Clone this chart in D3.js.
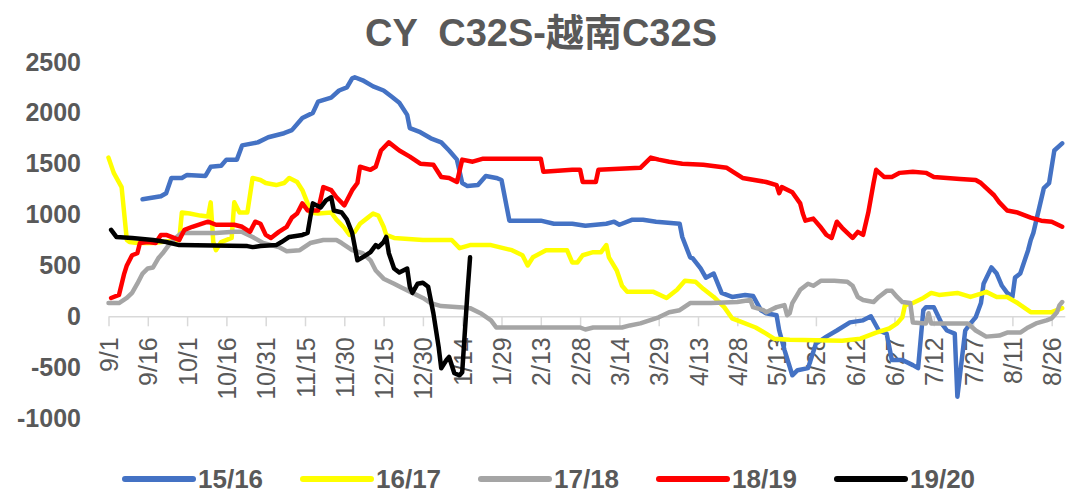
<!DOCTYPE html>
<html>
<head>
	<meta charset="utf-8">
	<title>CY C32S-越南C32S</title>
	<style type="text/css">
body {
  margin: 0;
  background: #fff;
}

text {
  font-family: "Liberation Sans", "Noto Sans CJK SC", sans-serif;
  fill: #595959;
}

.title {
  white-space: pre;
}
	</style>
</head>
<body>
	<svg width="1068" height="495"></svg>

	<script src="https://cdnjs.cloudflare.com/ajax/libs/d3/7.8.5/d3.min.js"></script>
	<script>
		// x labels every 15 days from 9/1
		var tickLabels = ["9/1", "9/16", "10/1", "10/16", "10/31", "11/15", "11/30", "12/15", "12/30", "1/14",
			"1/29", "2/13", "2/28", "3/14", "3/29", "4/13", "4/28", "5/13", "5/28", "6/12",
			"6/27", "7/12", "7/27", "8/11", "8/26"]
		var yTicks = [-1000, -500, 0, 500, 1000, 1500, 2000, 2500]
		var seasons = ["15/16", "16/17", "17/18", "18/19", "19/20"]
		var colors = ["#4472C4", "#FFFF00", "#A5A5A5", "#FF0000", "#000000"]

		// [day since 9/1, spread]
		var s1516 = [[13,1150],[20,1180],[22,1210],[24,1360],[28,1360],[30,1390],[37,1380],[39,1470],[43,1480],
			[45,1540],[49,1540],[51,1680],[57,1710],[61,1760],[67,1800],[70,1830],[74,1950],[78,2000],[80,2110],
			[85,2150],[88,2220],[91,2250],[93,2340],[94,2350],[97,2320],[101,2260],[105,2220],[108,2160],[111,2100],
			[114,1980],[115,1850],[119,1810],[123,1750],[127,1710],[130,1630],[133,1540],[135,1310],[137,1280],
			[141,1290],[144,1380],[148,1360],[150,1340],[153,940],[165,940],[170,910],[177,910],[182,890],[190,910],
			[193,930],[195,900],[200,950],[204,950],[209,930],[218,910],[219,780],[222,580],[223,570],[226,470],
			[228,380],[231,420],[234,230],[238,190],[243,210],[246,200],[249,60],[251,30],[255,10],[256,-140],
			[258,-330],[261,-580],[263,-530],[267,-510],[270,-270],[274,-200],[278,-140],[283,-60],[288,-40],
			[291,0],[294,-140],[297,-170],[299,-430],[303,-430],[307,-480],[309,-510],[311,60],[312,90],[315,90],
			[318,-70],[320,-140],[323,-170],[324,-790],[327,-140],[329,-70],[331,-10],[333,130],[334,320],[337,480],
			[339,420],[341,300],[343,230],[345,190],[346,380],[348,420],[351,650],[352,750],[353,820],[357,1260],
			[359,1310],[361,1630],[364,1700]]

		var s1617 = [[0,1560],[2,1410],[5,1270],[7,750],[8,730],[11,720],[17,720],[27,750],[28,1020],[31,1010],
			[35,990],[38,980],[39,1120],[40,730],[41,650],[43,730],[47,770],[48,1120],[50,1020],[53,1020],[55,1360],
			[58,1340],[60,1310],[64,1290],[67,1310],[69,1360],[72,1320],[74,1240],[76,1110],[77,1020],[80,1010],
			[85,1020],[87,950],[90,870],[92,800],[94,830],[96,910],[99,970],[101,1010],[103,990],[105,880],[106,800],
			[109,770],[120,750],[131,750],[134,670],[138,700],[146,700],[154,650],[158,600],[160,500],[162,580],
			[167,650],[175,650],[177,530],[179,530],[181,600],[185,630],[188,630],[190,700],[191,580],[194,450],
			[196,300],[198,240],[208,240],[213,180],[217,260],[220,350],[224,340],[227,270],[231,190],[235,90],
			[238,-20],[242,-60],[247,-110],[251,-170],[254,-220],[260,-230],[280,-240],[287,-220],[293,-160],
			[298,-120],[301,-70],[303,-10],[304,110],[307,130],[311,180],[314,230],[317,210],[324,230],[329,190],
			[334,230],[335,240],[339,190],[343,190],[347,130],[352,40],[360,40],[364,80]]

		var s1718 = [[0,130],[4,130],[7,180],[9,230],[11,320],[13,420],[15,470],[17,480],[19,570],[21,630],
			[23,700],[26,780],[28,820],[41,820],[48,830],[51,830],[55,780],[59,720],[65,680],[68,640],[73,650],
			[77,720],[82,750],[87,750],[89,720],[93,650],[97,620],[100,550],[102,450],[105,370],[109,320],[112,280],
			[116,230],[120,180],[123,130],[127,100],[134,90],[138,80],[142,30],[146,-40],[148,-110],[180,-110],
			[182,-130],[185,-110],[196,-110],[199,-90],[203,-70],[210,-10],[214,40],[218,60],[222,130],[230,130],
			[240,140],[245,160],[246,90],[250,60],[251,40],[255,90],[258,110],[259,10],[260,30],[261,130],[264,260],
			[267,320],[269,300],[272,350],[277,350],[282,340],[284,300],[286,190],[288,160],[292,140],[294,190],
			[297,250],[299,250],[301,190],[303,140],[306,130],[307,-60],[312,-70],[313,30],[314,-70],[328,-70],
			[331,-140],[335,-200],[340,-190],[343,-160],[348,-160],[351,-110],[354,-70],[358,-40],[360,-20],
			[362,40],[363,110],[364,140]]

		var s1819 = [[1,180],[4,210],[6,420],[7,500],[9,600],[11,620],[12,720],[15,730],[18,720],[20,800],
			[22,800],[25,770],[27,750],[29,850],[32,880],[38,930],[41,900],[48,900],[51,880],[54,830],[56,930],
			[58,910],[60,800],[62,770],[65,830],[68,880],[70,970],[72,1010],[74,1110],[76,1040],[80,1040],
			[82,1270],[85,1240],[87,1170],[90,1090],[93,1240],[95,1310],[96,1470],[100,1440],[102,1470],[104,1630],
			[107,1710],[111,1630],[115,1570],[119,1500],[124,1490],[127,1370],[130,1360],[133,1320],[135,1540],
			[139,1520],[143,1550],[165,1550],[166,1420],[177,1440],[180,1440],[181,1320],[186,1320],[187,1440],
			[203,1460],[207,1560],[210,1540],[214,1520],[219,1500],[227,1490],[236,1460],[242,1360],[251,1320],
			[255,1290],[256,1210],[257,1270],[261,1220],[264,1110],[265,1010],[266,940],[269,960],[272,870],
			[274,800],[276,770],[278,930],[280,870],[284,770],[286,830],[288,800],[290,1020],[292,1310],[293,1440],
			[296,1370],[299,1370],[302,1410],[307,1420],[312,1410],[315,1370],[320,1360],[325,1350],[331,1340],
			[333,1310],[338,1190],[340,1120],[343,1040],[347,1020],[352,970],[356,940],[360,930],[364,880]]

		var s1920 = [[1,850],[3,780],[9,770],[17,750],[22,730],[27,700],[53,690],[55,680],[58,690],[64,700],
			[66,730],[69,780],[74,800],[76,820],[77,970],[78,1110],[81,1070],[83,1140],[85,1170],[86,1040],
			[89,1020],[91,950],[93,820],[95,550],[97,580],[100,630],[102,700],[103,680],[105,730],[106,780],
			[107,620],[109,470],[111,430],[114,470],[115,290],[116,230],[118,320],[120,330],[122,290],[124,30],
			[126,-300],[127,-510],[129,-430],[130,-400],[132,-560],[134,-580],[135,-550],[137,230],[138,580]]

		var allSeries = [s1516, s1617, s1718, s1819, s1920]

		var svg = d3.select("svg")

		var x = d3.scaleLinear().domain([0, 365]).range([108.5, 108.5 + 365 * 2.62])
		var y = d3.scaleLinear().domain([-1000, 2500]).range([418, 62])

		// title (two spaces after CY)
		svg.append("text")
			.attr("class", "title")
			.attr("x", 541)
			.attr("y", 46)
			.attr("text-anchor", "middle")
			.style("font-size", "38px")
			.style("font-weight", "bold")
			.text("CY  C32S-越南C32S")

		// y axis labels only, no gridlines
		var yAxis = svg.append("g")
			.attr("transform", "translate(81,0)")
			.call(d3.axisLeft(y).tickValues(yTicks).tickSize(0).tickPadding(0)
				.tickFormat(function (d) { return String(d) }))
		yAxis.select(".domain").remove()
		yAxis.selectAll("text")
			.style("font-size", "25px")
			.style("font-weight", "bold")
			.style("font-family", null)
			.attr("fill", "#595959")

		// category axis on the zero line
		var xAxis = svg.append("g")
			.attr("transform", "translate(0," + y(0) + ")")
			.call(d3.axisBottom(x)
				.tickValues(d3.range(tickLabels.length).map(function (i) { return i * 15 }))
				.tickFormat(function (d, i) { return tickLabels[i] })
				.tickSize(10)
				.tickSizeOuter(0))
		xAxis.select(".domain").attr("stroke", "#D9D9D9").attr("stroke-width", 1.5)
		xAxis.selectAll(".tick line").attr("stroke", "#D9D9D9").attr("stroke-width", 1.5)
		xAxis.selectAll("text")
			.style("font-size", "25px")
			.style("font-family", null)
			.attr("fill", "#595959")
			.attr("text-anchor", "end")
			.attr("transform", "rotate(-90)")
			.attr("x", -21)
			.attr("y", 0)
			.attr("dy", "0.36em")

		var line = d3.line()
			.x(function (d) { return x(d[0]) })
			.y(function (d) { return y(d[1]) })

		svg.append("g").selectAll("path")
			.data(allSeries)
			.enter().append("path")
				.attr("d", line)
				.attr("fill", "none")
				.attr("stroke", function (d, i) { return colors[i] })
				.attr("stroke-width", 4.5)
				.attr("stroke-linejoin", "round")
				.attr("stroke-linecap", "round")

		// legend
		var legend = svg.append("g").selectAll("g")
			.data(seasons)
			.enter().append("g")
				.attr("transform", function (d, i) { return "translate(" + (125 + i * 178) + ",479)" })

		legend.append("line")
			.attr("x1", 0).attr("x2", 68)
			.attr("stroke", function (d, i) { return colors[i] })
			.attr("stroke-width", 6)
			.attr("stroke-linecap", "round")

		legend.append("text")
			.attr("x", 73)
			.attr("dy", "0.35em")
			.style("font-size", "26px")
			.style("font-weight", "bold")
			.text(function (d) { return d })
	</script>
</body>
</html>
